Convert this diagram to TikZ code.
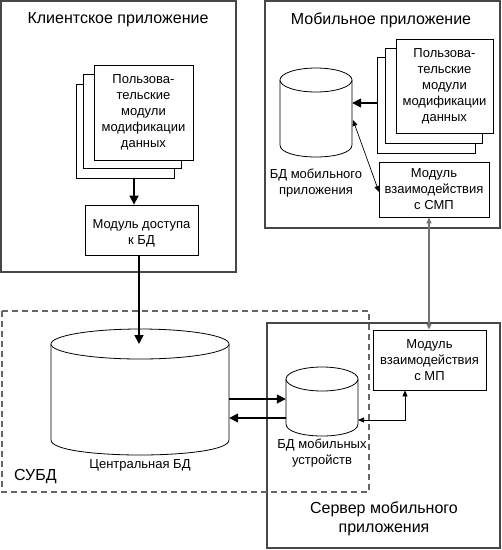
\documentclass[tikz,border=0pt]{standalone}
\usepackage{fontspec}
\setmainfont{Liberation Sans}
\usetikzlibrary{arrows.meta}
\begin{document}
\begin{tikzpicture}[x=1pt,y=-1pt,
 outer/.style={draw=black!72, line width=1.3pt},
 subd/.style={draw=black!60, line width=1.1pt, dash pattern=on 6pt off 4pt},
 paper/.style={draw=black, line width=0.8pt, fill=white},
 modbox/.style={draw=black, line width=0.8pt, fill=white, inner sep=0pt, align=center, font=\fontsize{13}{16}\selectfont},
 ttl/.style={font=\fontsize{16}{19}\selectfont, align=center, inner sep=0pt},
 lbl/.style={font=\fontsize{13}{16}\selectfont, align=center, inner sep=0pt},
 cylbox/.style={inner sep=0pt, draw=none},
 thickarrow/.style={line width=1.6pt, -{Triangle[length=9pt,width=9pt]}},
 thinarrow/.style={line width=0.7pt, {Triangle[length=6pt,width=5pt]}-{Triangle[length=6pt,width=5pt]}},
 grayarrow/.style={draw=black!55, line width=1.4pt, {Triangle[length=6pt,width=5pt]}-{Triangle[length=6pt,width=5pt]}},
 ]
\useasboundingbox[fill=white] (0,0) rectangle (502,550);

% ---------- outer containers ----------
\draw[outer] (1,1) rectangle (236,272);
\node[ttl] (clientT) at (118,20) {Клиентское приложение};

\draw[outer] (265,1) rectangle (500,228);
\node[ttl] (mobT) at (381,20) {Мобильное приложение};

\draw[outer] (267,323) rectangle (500,548);
\node[ttl] (srvT) at (384,519) {Сервер мобильного\\приложения};

\draw[subd] (2,311) rectangle (369,492);
\node[ttl, anchor=west] (subdT) at (14,477) {СУБД};

% ---------- client application ----------
\draw[paper] (76,84) rectangle (174,178);
\draw[paper] (83,74) rectangle (181,168);
\node[modbox, minimum width=99pt, minimum height=95pt] (cstack) at (143.5,112.5) {Пользова-\\тельские\\модули\\модификации\\данных};
\coordinate (cstackB) at (134,178);
\node[modbox, minimum width=113pt, minimum height=50pt] (cacc) at (141.5,230) {\rule{0pt}{15.5pt}Модуль доступа\\к БД};

% ---------- mobile application ----------
\draw[paper] (377,57) rectangle (475,153);
\draw[paper] (385,48) rectangle (482,143);
\node[modbox, minimum width=97pt, minimum height=94pt] (mstack) at (444.5,86) {Пользова-\\тельские\\модули\\модификации\\данных};
\coordinate (mstackL) at (377,103);

% mobile DB cylinder
\fill[white] (280,80) -- (280,145) .. controls (280,161) and (352,161) .. (352,145) -- (352,80) -- cycle;
\draw[line width=0.8pt] (280,80) -- (280,145) .. controls (280,161) and (352,161) .. (352,145) -- (352,80);
\draw[line width=0.8pt, fill=white] (316,80) ellipse [x radius=36, y radius=12];
\node[cylbox, minimum width=72pt, minimum height=89pt] (mdb) at (316,112.5) {};
\node[lbl] (mdbT) at (316,183) {БД мобильного\\приложения};

\node[modbox, minimum width=110pt, minimum height=55pt] (msmp) at (434,189.5) {Модуль\\взаимодействия\\с СМП};

% ---------- central DB ----------
\fill[white] (51,344) -- (51,440) .. controls (51,460) and (229,460) .. (229,440) -- (229,344) -- cycle;
\draw[line width=0.8pt] (51,344) -- (51,440) .. controls (51,460) and (229,460) .. (229,440) -- (229,344);
\draw[line width=0.8pt, fill=white] (140,344) ellipse [x radius=89, y radius=15];
\node[cylbox, minimum width=178pt, minimum height=126pt] (cdb) at (140,392) {};
\node[lbl] (cdbT) at (140,465) {Центральная БД};

% ---------- mobile server ----------
\node[modbox, minimum width=113pt, minimum height=60pt] (mmp) at (429.5,360) {Модуль\\взаимодействия\\с МП};

\fill[white] (286,379) -- (286,424) .. controls (286,440) and (358,440) .. (358,424) -- (358,379) -- cycle;
\draw[line width=0.8pt] (286,379) -- (286,424) .. controls (286,440) and (358,440) .. (358,424) -- (358,379);
\draw[line width=0.8pt, fill=white] (322,379) ellipse [x radius=36, y radius=12];
\node[cylbox, minimum width=72pt, minimum height=69pt] (sdb) at (322,401.5) {};
\node[lbl] (sdbT) at (322,453) {БД мобильных\\устройств};

% ---------- connectors ----------
\draw[thickarrow] (cstackB) -- (cstackB |- cacc.north);
\coordinate (cdbTop) at (139,344);
\draw[thickarrow] (cacc.south -| cdbTop) -- (cdbTop);

\draw[thickarrow] (mstackL) -- (mstackL -| mdb.east);
\coordinate (mdbR) at (353,120);
\coordinate (msmpL) at (379,192);
\draw[thinarrow] (mdbR) -- (msmpL);

\coordinate (grayX) at (429,0);
\draw[grayarrow] (msmp.south -| grayX) -- (mmp.north -| grayX);

\coordinate (up) at (0,399);
\coordinate (dn) at (0,418);
\draw[thickarrow] (cdb.east |- up) -- (sdb.west |- up);
\draw[thickarrow] (sdb.west |- dn) -- (cdb.east |- dn);

\coordinate (sdbR) at (358,420);
\coordinate (mmpB) at (405,0);
\draw[thinarrow] (sdbR) -| (mmp.south -| mmpB);
\end{tikzpicture}
\end{document}
